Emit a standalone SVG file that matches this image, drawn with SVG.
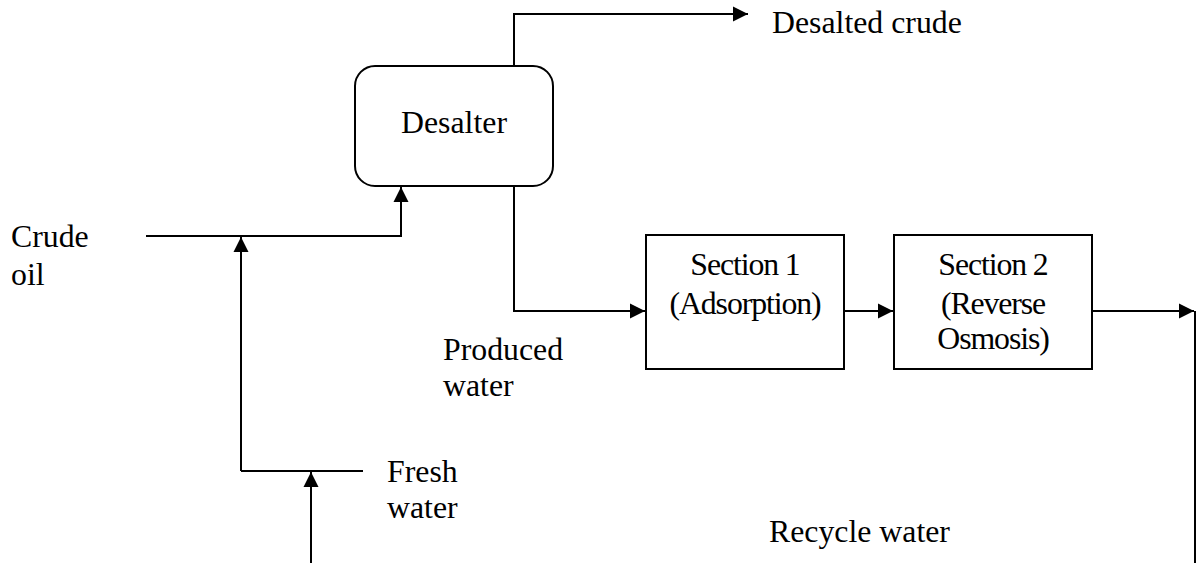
<svg xmlns="http://www.w3.org/2000/svg" width="1196" height="563" viewBox="0 0 1196 563">
<style>
text{font-family:"Liberation Serif","Times New Roman",serif;font-size:31.8px;fill:#000}
.s{letter-spacing:-1.1px}
.c{text-anchor:middle}
.ln{fill:none;stroke:#000;stroke-width:2}
.box{fill:#fff;stroke:#000;stroke-width:2}
</style>
<defs>
<marker id="ah" markerWidth="16" markerHeight="16" viewBox="0 0 16 16" refX="15" refY="8" orient="auto" markerUnits="userSpaceOnUse">
<path d="M0,0.5 L15,8 L0,15.5 Z" fill="#000"/>
</marker>
</defs>
<rect width="1196" height="563" fill="#fff"/>
<g id="connectors">
<path class="ln" d="M514,66 V14 H748" marker-end="url(#ah)"/>
<path class="ln" d="M146,236 H401 V187" marker-end="url(#ah)"/>
<path class="ln" d="M241,471 V237" marker-end="url(#ah)"/>
<path class="ln" d="M241,471 H363"/>
<path class="ln" d="M311,563 V472" marker-end="url(#ah)"/>
<path class="ln" d="M514,186 V311 H645" marker-end="url(#ah)"/>
<path class="ln" d="M844,311 H893" marker-end="url(#ah)"/>
<path class="ln" d="M1092,311 H1194" marker-end="url(#ah)"/>
<path class="ln" d="M1195,311 V563"/>
</g>
<g id="desalter">
<rect class="box" x="355" y="66" width="198" height="120" rx="20" ry="20"/>
<text class="c" x="454" y="133">Desalter</text>
</g>
<g id="section1">
<rect class="box" x="646" y="235" width="198" height="134"/>
<text class="c s" x="745" y="275">Section 1</text>
<text class="c s" x="745" y="314">(Adsorption)</text>
</g>
<g id="section2">
<rect class="box" x="894" y="235" width="198" height="134"/>
<text class="c s" x="993" y="275">Section 2</text>
<text class="c s" x="993" y="314">(Reverse</text>
<text class="c s" x="993" y="349">Osmosis)</text>
</g>
<g id="labels">
<text x="772" y="33">Desalted crude</text>
<text x="11" y="247">Crude</text>
<text x="11" y="285">oil</text>
<text x="443" y="360">Produced</text>
<text x="443" y="396">water</text>
<text x="387" y="482">Fresh</text>
<text x="387" y="518">water</text>
<text x="769" y="542">Recycle water</text>
</g>
</svg>
